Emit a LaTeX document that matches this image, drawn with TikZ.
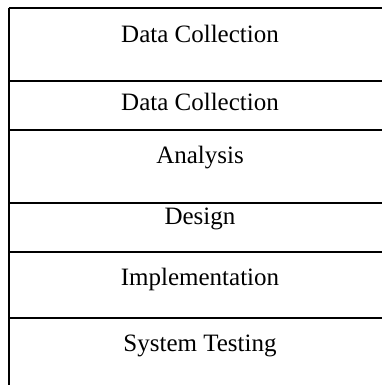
\documentclass[tikz,border=0pt]{standalone}
\usepackage{fontspec}
\setmainfont{Liberation Serif}
\usetikzlibrary{positioning}
\tikzstyle{stage}=[anchor=base, inner sep=0pt, font=\fontsize{12.5}{15}\selectfont]
\tikzstyle{rule}=[line width=1pt]

\begin{document}
\begin{tikzpicture}[x=0.5pt, y=-0.5pt]
	\useasboundingbox (0, 0) rectangle (381, 385);
	\node[stage] (collect) at (200, 42.3) {Data Collection};
	\node[stage] (collect2) at (200, 110.7) {Data Collection};
	\node[stage] (analysis) at (200, 163.3) {Analysis};
	\node[stage] (design) at (200, 224) {Design};
	\node[stage] (impl) at (200, 285) {Implementation};
	\node[stage] (test) at (200, 351.7) {System Testing};
	\foreach \y in {8.3, 81, 130, 203.3, 252.3, 318.3}
		\draw [rule] (8.5, \y) -- (395, \y);
	\draw [rule] (8.5, 8.3) -- (8.5, 390);
\end{tikzpicture}
\end{document}
